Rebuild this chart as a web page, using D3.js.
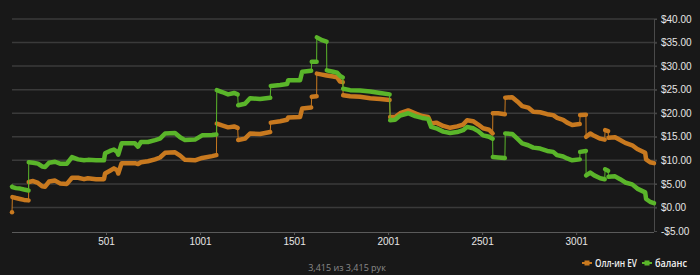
<!DOCTYPE html>
<html>
<head>
<meta charset="utf-8">
<script src="https://cdn.jsdelivr.net/npm/d3@7"></script>
<style>
  body { margin: 0; background: #181818; }
  svg { display: block; font-family: "Open Sans", "Noto Sans", sans-serif; }
</style>
</head>
<body>
<div id="chart"></div>
<script>
const width = 700;
const height = 275;

// hand number, all-in EV and balance
var hands = [1, 3, 22, 44, 65, 89, 90, 113, 139, 161, 177, 198, 230, 256, 293, 320, 352, 384, 405,
  448, 490, 496, 522, 543, 560, 566, 584, 655, 671, 687, 724, 762, 788, 815, 868, 895, 921, 974,
  1012, 1065, 1088, 1090, 1118, 1150, 1182, 1201, 1204, 1240, 1267, 1320, 1374, 1377, 1427, 1464,
  1470, 1533, 1544, 1592, 1595, 1621, 1622, 1650, 1674, 1675, 1709, 1730, 1746, 1760, 1762, 1799,
  1852, 1906, 1959, 2009, 2012, 2038, 2065, 2108, 2145, 2182, 2214, 2230, 2257, 2294, 2331, 2368,
  2400, 2421, 2453, 2480, 2506, 2538, 2557, 2558, 2586, 2622, 2624, 2661, 2688, 2714, 2746, 2773,
  2810, 2847, 2879, 2900, 2932, 2953, 2980, 3020, 3022, 3053, 3054, 3076, 3097, 3129, 3153, 3155,
  3171, 3173, 3208, 3235, 3262, 3299, 3326, 3368, 3373, 3394, 3415];

var allinEV = [-1.0, 2.2, 2.0, 1.8, 1.6, 1.5, 5.4, 5.6, 5.2, 4.5, 4.4, 5.5, 5.7, 5.1, 5.0, 6.3, 6.3, 6.0, 6.2,
  6.0, 6.0, 7.2, 7.8, 8.3, 7.9, 7.2, 9.4, 9.4, 9.2, 9.6, 9.8, 10.2, 10.6, 11.6, 11.7, 11.0, 10.1, 10.0,
  10.5, 10.9, 11.1, 17.8, 17.4, 17.0, 17.2, 16.9, 14.3, 14.6, 15.7, 15.6, 16.0, 18.0, 18.3, 18.6,
  19.1, 19.2, 21.0, 21.2, 23.5, 23.6, 28.4, 28.2, 28.0, 28.0, 27.8, 27.6, 26.7, 26.6, 23.8, 23.6,
  23.5, 23.2, 23.0, 22.8, 19.2, 19.2, 20.0, 20.6, 20.0, 19.4, 19.2, 17.8, 18.0, 17.3, 16.9, 17.2,
  17.6, 18.5, 18.3, 17.6, 16.8, 16.5, 15.7, 20.0, 20.0, 19.8, 23.3, 23.4, 22.5, 21.5, 21.2, 20.3,
  20.2, 19.8, 19.6, 19.0, 18.6, 18.0, 17.5, 17.7, 19.6, 19.7, 15.0, 15.7, 15.2, 14.6, 14.4, 16.4,
  16.2, 14.8, 14.9, 14.3, 13.7, 13.2, 12.4, 11.6, 10.2, 9.6, 9.4];

var balance = [4.4, 4.3, 4.1, 4.0, 3.8, 3.6, 9.6, 9.5, 9.3, 8.7, 8.6, 9.5, 9.7, 9.3, 9.3, 10.7, 10.2, 10.0, 10.1,
  10.0, 10.0, 11.5, 12.0, 12.3, 11.8, 11.2, 13.6, 13.6, 12.9, 13.9, 13.9, 14.3, 14.6, 15.7, 15.8, 14.9, 14.3, 14.4,
  15.3, 15.4, 15.5, 24.9, 24.5, 24.0, 24.3, 24.0, 21.7, 22.0, 23.2, 23.0, 23.3, 25.8, 26.0, 26.2,
  27.0, 27.0, 28.8, 29.0, 30.9, 30.9, 36.1, 35.5, 35.2, 29.1, 28.8, 28.6, 27.9, 27.6, 25.2, 24.9,
  24.8, 24.6, 24.3, 24.0, 18.5, 18.6, 19.5, 20.0, 19.4, 19.0, 18.8, 17.1, 16.8, 16.1, 15.8, 16.0,
  16.4, 17.1, 16.8, 16.2, 15.3, 15.0, 14.6, 10.7, 10.6, 10.5, 15.7, 15.6, 14.6, 13.6, 13.2, 12.7,
  12.5, 12.0, 11.8, 11.1, 10.8, 10.4, 10.0, 10.2, 11.8, 12.0, 6.8, 7.4, 6.8, 6.2, 6.0, 8.1,
  7.8, 6.5, 6.6, 6.0, 5.3, 4.9, 4.0, 3.2, 1.8, 1.2, 0.9];

var xTicks = [501, 1001, 1501, 2001, 2501, 3001];
var yTicks = [-5, 0, 5, 10, 15, 20, 25, 30, 35, 40];
var seriesNames = ["Олл-ин EV", "баланс"];
var seriesColors = ["#c8791f", "#5ab52a"];
var footer = "3,415 из 3,415 рук";

var series = [allinEV, balance].map((vals, i) => ({
  name: seriesNames[i],
  color: seriesColors[i],
  points: hands.map((h, j) => ({hand: h, value: vals[j]}))
}));

var svg = d3.select("#chart").append("svg")
  .attr("width", width).attr("height", height);

var x = d3.scaleLinear().domain([1, 3415]).range([12, 654]);
var y = d3.scaleLinear().domain([-5, 40]).range([231, 19]);

// grid
svg.append("g")
  .selectAll("line")
  .data(yTicks.filter(d => d > -5))
  .enter().append("line")
  .attr("x1", 12).attr("x2", 657)
  .attr("y1", d => y(d)).attr("y2", d => y(d))
  .attr("stroke", "#3a3a3a").attr("stroke-width", 1.5);

// right axis
var yAxis = svg.append("g")
  .attr("transform", "translate(654,0)")
  .call(d3.axisRight(y).tickValues(yTicks).tickSize(3).tickPadding(4)
    .tickFormat(d => (d < 0 ? "-$" : "$") + Math.abs(d).toFixed(2)));
yAxis.select(".domain").attr("stroke", "#4a4a4a");
yAxis.selectAll(".tick line").attr("stroke", "#4a4a4a");
yAxis.selectAll("text").attr("fill", "#e6e6e6").attr("font-size", 10);

// bottom axis
var xAxis = svg.append("g")
  .attr("transform", "translate(0,232)")
  .call(d3.axisBottom(x).tickValues(xTicks).tickSize(3).tickPadding(3).tickFormat(d3.format("d")));
xAxis.select(".domain").attr("stroke", "#5a5a5a").attr("d", "M12,0.5H654");
xAxis.selectAll(".tick line").attr("stroke", "#5a5a5a");
xAxis.selectAll("text").attr("fill", "#e6e6e6").attr("font-size", 10);

var line = d3.line().x(d => x(d.hand)).y(d => y(d.value));

// split a series into runs at jumps (two points on neighbouring hands)
function runs(points) {
  let out = [[points[0]]];
  for (let i = 1; i < points.length; i++) {
    if (points[i].hand - points[i - 1].hand <= 3 && Math.abs(points[i].value - points[i - 1].value) > 0.9) {
      out.push([]);
    }
    out[out.length - 1].push(points[i]);
  }
  return out;
}

series.forEach(s => {
  let g = svg.append("g");
  g.append("path")
    .attr("d", line(s.points))
    .attr("fill", "none").attr("stroke", s.color).attr("stroke-width", 1);
  g.selectAll(".run")
    .data(runs(s.points))
    .enter().append("path")
    .attr("class", "run")
    .attr("d", d => line(d))
    .attr("fill", "none").attr("stroke", s.color)
    .attr("stroke-width", 4.5)
    .attr("stroke-linejoin", "round").attr("stroke-linecap", "round");
});

// footer
svg.append("text")
  .attr("x", 347).attr("y", 271)
  .attr("text-anchor", "middle")
  .attr("fill", "#8a8a8a").attr("font-size", 9)
  .text(footer);

// legend
var legendX = [582, 642];
var legendW = [42, 32];
var legend = svg.append("g");
series.forEach((s, i) => {
  let lg = legend.append("g").attr("transform", `translate(${legendX[i]},263)`);
  lg.append("line").attr("x1", 0).attr("x2", 10).attr("y1", 0).attr("y2", 0)
    .attr("stroke", s.color).attr("stroke-width", 2);
  lg.append("rect").attr("x", 2.5).attr("y", -2.5).attr("width", 5).attr("height", 5)
    .attr("fill", s.color);
  lg.append("text").attr("x", 13).attr("y", 3.5)
    .attr("fill", "#f0f0f0").attr("font-size", 10).attr("font-weight", 600)
    .attr("textLength", legendW[i]).attr("lengthAdjust", "spacingAndGlyphs")
    .text(s.name);
});
</script>
</body>
</html>
